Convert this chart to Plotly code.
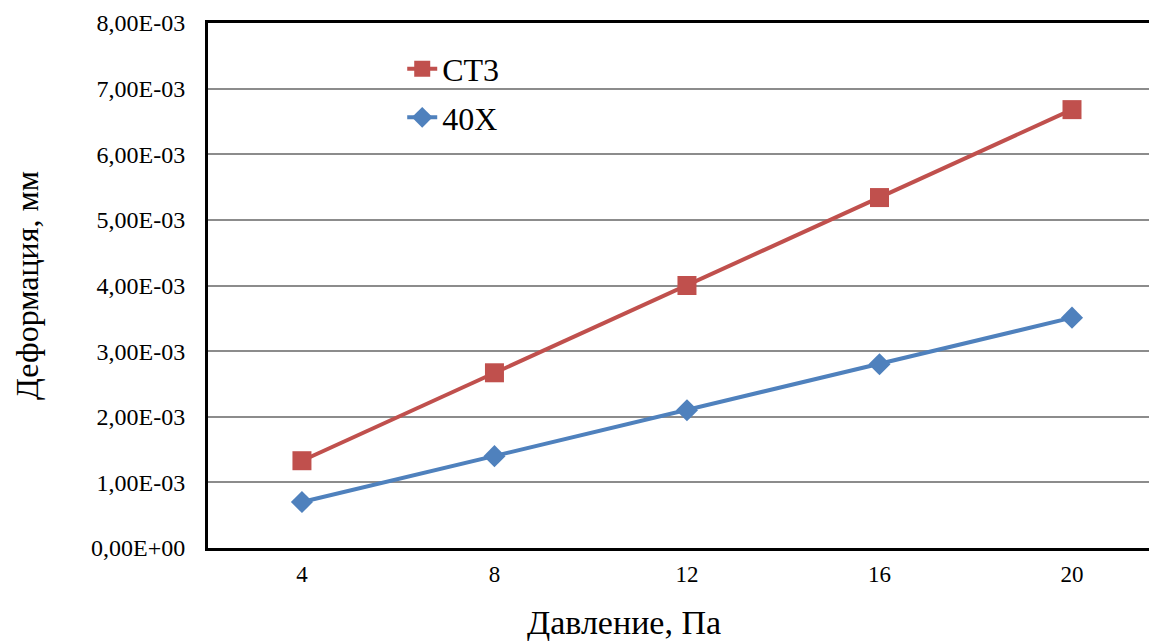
import plotly.graph_objects as go

categories = ["4", "8", "12", "16", "20"]
ct3 = [1.33e-3, 2.67e-3, 4.00e-3, 5.34e-3, 6.68e-3]
x40 = [0.70e-3, 1.40e-3, 2.10e-3, 2.80e-3, 3.51e-3]
y_tickvals = [0, 1e-3, 2e-3, 3e-3, 4e-3, 5e-3, 6e-3, 7e-3, 8e-3]
y_ticktext = ["0,00E+00", "1,00E-03", "2,00E-03", "3,00E-03", "4,00E-03",
              "5,00E-03", "6,00E-03", "7,00E-03", "8,00E-03"]
x_title = "Давление, Па"
y_title = "Деформация, мм"

FONT = "Liberation Serif, Times New Roman, serif"

fig = go.Figure()
fig.add_trace(go.Scatter(
    x=categories, y=ct3, name="СТ3", mode="lines+markers",
    legendgroup="a",
    line=dict(color="#C0504D", width=4),
    marker=dict(symbol="square", size=19, color="#C0504D"),
))
fig.add_trace(go.Scatter(
    x=categories, y=x40, name="40Х", mode="lines+markers",
    legendgroup="b",
    line=dict(color="#4F81BD", width=4),
    marker=dict(symbol="diamond", size=17, color="#4F81BD"),
))

fig.add_annotation(
    text=x_title, xref="paper", yref="paper",
    x=0.442, y=-0.141, xanchor="center", yanchor="middle",
    showarrow=False, font=dict(family=FONT, size=34, color="black"),
)

fig.update_layout(
    width=1141, height=635,
    margin=dict(l=200, r=0, t=15, b=95),
    paper_bgcolor="white", plot_bgcolor="white",
    font=dict(family=FONT, color="black", size=24),
    showlegend=True,
    legend=dict(
        x=0.2064, y=0.965, xanchor="left", yanchor="top",
        font=dict(family=FONT, size=32, color="black"),
        bgcolor="rgba(0,0,0,0)",
        traceorder="grouped", tracegroupgap=4,
    ),
    xaxis=dict(
        type="category", range=[-0.488, 4.40],
        showline=True, linecolor="black", linewidth=3, mirror=True,
        showgrid=False, ticks="", zeroline=False,
        ticklabelstandoff=3,
        tickfont=dict(family=FONT, size=23),
    ),
    yaxis=dict(
        range=[0, 8e-3],
        tickvals=y_tickvals, ticktext=y_ticktext,
        showline=True, linecolor="black", linewidth=3,
        showgrid=True, gridcolor="#8c8c8c", gridwidth=1.5,
        zeroline=False, ticks="",
        ticklabelstandoff=15,
        tickfont=dict(family=FONT, size=24),
        title=dict(text=y_title, font=dict(family=FONT, size=32), standoff=43),
    ),
)

fig.write_html("out.html")
